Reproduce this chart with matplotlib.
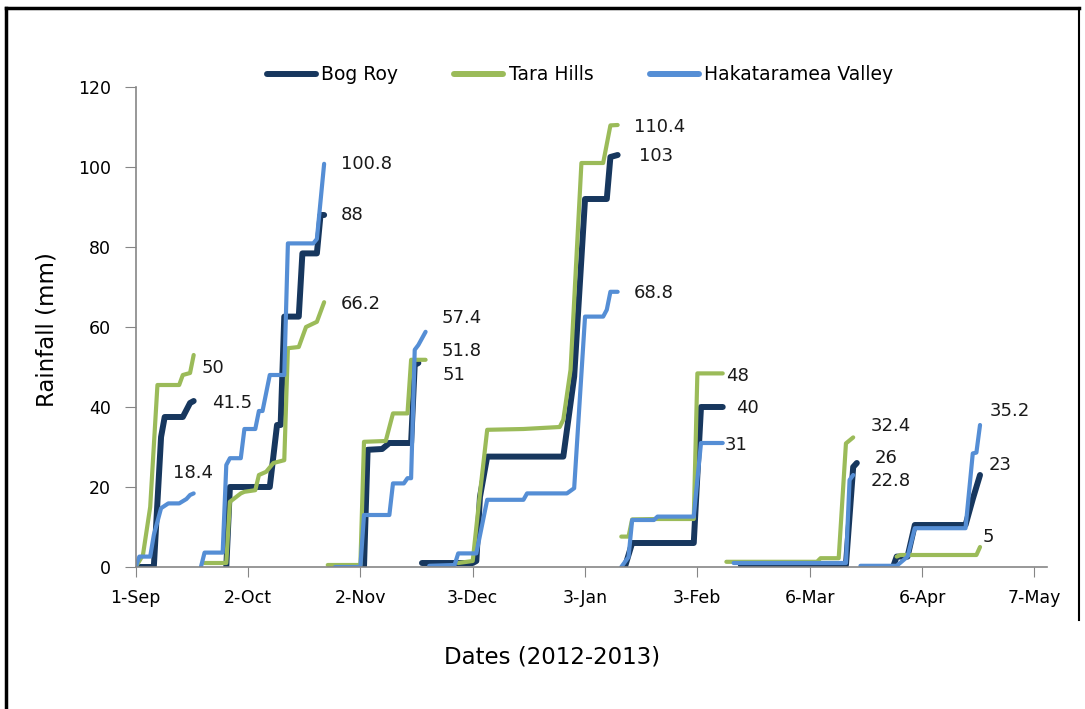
import matplotlib
matplotlib.use('Agg')
import matplotlib.pyplot as plt
import matplotlib.dates as mdates
from matplotlib.lines import Line2D
import pandas as pd

# Cumulative rainfall (mm), one list per sampling period
bog_dates = [
    ['2012-09-01', '2012-09-06', '2012-09-08', '2012-09-09', '2012-09-14', '2012-09-16', '2012-09-17'],
    ['2012-09-26', '2012-09-27', '2012-10-08', '2012-10-10', '2012-10-11', '2012-10-12', '2012-10-16',
     '2012-10-17', '2012-10-21', '2012-10-22', '2012-10-23'],
    ['2012-10-27', '2012-11-03', '2012-11-04', '2012-11-08', '2012-11-10', '2012-11-16', '2012-11-17', '2012-11-18'],
    ['2012-11-19', '2012-12-03', '2012-12-04', '2012-12-05', '2012-12-07', '2012-12-28', '2012-12-31',
     '2013-01-03', '2013-01-09', '2013-01-10', '2013-01-12'],
    ['2013-01-14', '2013-01-16', '2013-02-02', '2013-02-04', '2013-02-10'],
    ['2013-02-15', '2013-03-16', '2013-03-18', '2013-03-19'],
    ['2013-03-29', '2013-03-30', '2013-04-02', '2013-04-04', '2013-04-18', '2013-04-20', '2013-04-22'],
]
bog_vals = [
    [0, 0, 32.5, 37.5, 37.5, 41, 41.5],
    [0, 20, 20, 35.5, 35.5, 62.6, 62.6, 78.4, 78.4, 88, 88],
    [0, 0, 29.3, 29.5, 31, 31, 50.5, 51],
    [1, 1, 1.5, 17.5, 27.6, 27.6, 47.6, 92, 92, 102.5, 103],
    [0, 6, 6, 40, 40],
    [0.5, 0.5, 25, 26],
    [0, 2.6, 2.6, 10.5, 10.5, 17, 23],
]

tara_dates = [
    ['2012-09-01', '2012-09-03', '2012-09-05', '2012-09-07', '2012-09-13', '2012-09-14', '2012-09-16', '2012-09-17'],
    ['2012-09-20', '2012-09-26', '2012-09-27', '2012-09-30', '2012-10-01', '2012-10-04', '2012-10-05',
     '2012-10-07', '2012-10-09', '2012-10-12', '2012-10-13', '2012-10-16', '2012-10-18', '2012-10-21', '2012-10-23'],
    ['2012-10-24', '2012-11-02', '2012-11-03', '2012-11-09', '2012-11-11', '2012-11-15', '2012-11-16', '2012-11-20'],
    ['2012-11-29', '2012-12-03', '2012-12-05', '2012-12-07', '2012-12-17', '2012-12-27', '2012-12-28',
     '2012-12-30', '2013-01-02', '2013-01-08', '2013-01-10', '2013-01-12'],
    ['2013-01-13', '2013-01-15', '2013-01-16', '2013-01-23', '2013-02-02', '2013-02-03', '2013-02-10'],
    ['2013-02-11', '2013-03-08', '2013-03-09', '2013-03-14', '2013-03-16', '2013-03-18'],
    ['2013-03-30', '2013-03-31', '2013-04-21', '2013-04-22'],
]
tara_vals = [
    [0, 3, 15, 45.5, 45.5, 48, 48.5, 53],
    [1, 1, 16.3, 18.4, 18.8, 19.2, 23, 23.8, 26, 26.7, 54.7, 55, 60, 61.3, 66.2],
    [0.5, 0.5, 31.3, 31.5, 38.4, 38.4, 51.8, 51.8],
    [1, 1.5, 18.4, 34.3, 34.5, 35, 36.8, 49.3, 101, 101, 110.4, 110.5],
    [7.6, 7.6, 11.9, 12, 12, 48.4, 48.4],
    [1.3, 1.3, 2.2, 2.2, 30.9, 32.4],
    [2.6, 3, 3, 5],
]

haka_dates = [
    ['2012-09-01', '2012-09-02', '2012-09-05', '2012-09-06', '2012-09-08', '2012-09-10', '2012-09-13',
     '2012-09-15', '2012-09-16', '2012-09-17'],
    ['2012-09-19', '2012-09-20', '2012-09-25', '2012-09-26', '2012-09-27', '2012-09-30', '2012-10-01',
     '2012-10-04', '2012-10-05', '2012-10-06', '2012-10-08', '2012-10-12', '2012-10-13', '2012-10-20',
     '2012-10-21', '2012-10-23'],
    ['2012-10-26', '2012-11-02', '2012-11-03', '2012-11-10', '2012-11-11', '2012-11-14', '2012-11-15',
     '2012-11-16', '2012-11-17', '2012-11-18', '2012-11-20'],
    ['2012-11-21', '2012-11-28', '2012-11-29', '2012-12-04', '2012-12-07', '2012-12-17', '2012-12-18',
     '2012-12-29', '2012-12-31', '2013-01-03', '2013-01-08', '2013-01-09', '2013-01-10', '2013-01-12'],
    ['2013-01-13', '2013-01-15', '2013-01-16', '2013-01-22', '2013-01-23', '2013-02-02', '2013-02-04', '2013-02-10'],
    ['2013-02-13', '2013-03-16', '2013-03-17', '2013-03-18'],
    ['2013-03-20', '2013-03-30', '2013-04-02', '2013-04-04', '2013-04-18', '2013-04-20', '2013-04-21', '2013-04-22'],
]
haka_vals = [
    [0, 2.6, 2.6, 8, 14.7, 15.9, 15.9, 17, 18, 18.4],
    [0, 3.6, 3.6, 25.5, 27.2, 27.2, 34.5, 34.5, 39, 39, 48, 48, 80.9, 80.9, 82, 100.8],
    [0, 0, 13, 13, 20.9, 20.9, 22.2, 22.2, 54.3, 55.5, 58.8],
    [0.3, 0.5, 3.4, 3.4, 16.8, 16.8, 18.4, 18.4, 19.7, 62.6, 62.6, 64.3, 68.8, 68.8],
    [0, 2.5, 11.75, 11.75, 12.6, 12.6, 31, 31],
    [1, 1, 21.75, 23],
    [0.3, 0.3, 2.6, 9.7, 9.7, 28.4, 28.6, 35.5],
]

# period totals written next to each line end
bog_labels = ['41.5', '88', '51', '103', '40', '26', '23']
tara_labels = ['50', '66.2', '51.8', '110.4', '48', '32.4', '5']
haka_labels = ['18.4', '100.8', '57.4', '68.8', '31', '22.8', '35.2']

# label offsets from line end (pixels: right, down)
bog_off = [(18, 4), (17, 2), (24, 14), (21, 3), (13, 3), (18, -3), (9, -8)]
tara_off = [(8, 15), (17, 4), (16, -7), (16, 4), (3, 5), (17, -9), (3, -8)]
haka_off = [(-21, -18), (17, 2), (16, -12), (16, 3), (2, 4), (17, 8), (10, -12)]

series = [
    ('Bog Roy', bog_dates, bog_vals, bog_labels, bog_off, '#17375E', 4.3),
    ('Tara Hills', tara_dates, tara_vals, tara_labels, tara_off, '#9BBB59', 3.0),
    ('Hakataramea Valley', haka_dates, haka_vals, haka_labels, haka_off, '#558ED5', 3.0),
]

W, H = 1085, 709
fig = plt.figure(figsize=(W / 100, H / 100), dpi=100)
ax = fig.add_axes([135.7 / W, (H - 567) / H, (1046.7 - 135.7) / W, (567 - 87) / H])

handles = []
for name, dates, vals, labels, offs, color, lw in series:
    for d, v, lab, (dx, dy) in zip(dates, vals, labels, offs):
        x = pd.to_datetime(d)
        ax.plot(x, v, color=color, lw=lw, solid_capstyle='round', solid_joinstyle='round')
        ax.annotate(lab, xy=(x[-1], v[-1]), xytext=(dx, -dy + 2), textcoords='offset pixels',
                    ha='left', va='center', fontsize=13, color='#1a1a1a')
    handles.append(Line2D([], [], color=color, lw=4.3, solid_capstyle='round', label=name))

ticks = pd.date_range('2012-09-01', periods=9, freq='31D')
ax.set_xticks(ticks)
ax.set_xticklabels([f"{t.day}-{t.strftime('%b')}" for t in ticks], fontsize=12.5)
ax.set_xlim(mdates.date2num(ticks[0]), mdates.date2num(ticks[-1]) + 3.4)
ax.set_ylim(0, 120)
ax.set_yticks(range(0, 121, 20))
ax.tick_params(axis='y', labelsize=12.5, length=8, pad=10, color='#868686')
ax.tick_params(axis='x', length=7, pad=9, color='#868686')
for s in ['top', 'right']:
    ax.spines[s].set_visible(False)
for s in ['left', 'bottom']:
    ax.spines[s].set_color('#868686')
    ax.spines[s].set_linewidth(1.2)

fig.text(47 / W, 1 - 330 / H, 'Rainfall (mm)', rotation=90, ha='center', va='center', fontsize=16.5)
fig.text(552 / W, 1 - 657 / H, 'Dates (2012-2013)', ha='center', va='center', fontsize=16.5)

fig.legend(handles=handles, loc='center', bbox_to_anchor=(580 / W, 1 - 75 / H), ncol=3, frameon=False,
           fontsize=13.5, handlelength=2.6, handletextpad=0.3, columnspacing=3.0)

# outer chart border
fig.add_artist(Line2D([6 / W, 6 / W], [0, 1 - 8 / H], color='black', lw=2.5))
fig.add_artist(Line2D([6 / W, 1079 / W], [1 - 8 / H, 1 - 8 / H], color='black', lw=2.5))
fig.add_artist(Line2D([1079 / W, 1079 / W], [1 - 8 / H, 1 - 620 / H], color='black', lw=1.5))

fig.savefig('out.png', dpi=100)
